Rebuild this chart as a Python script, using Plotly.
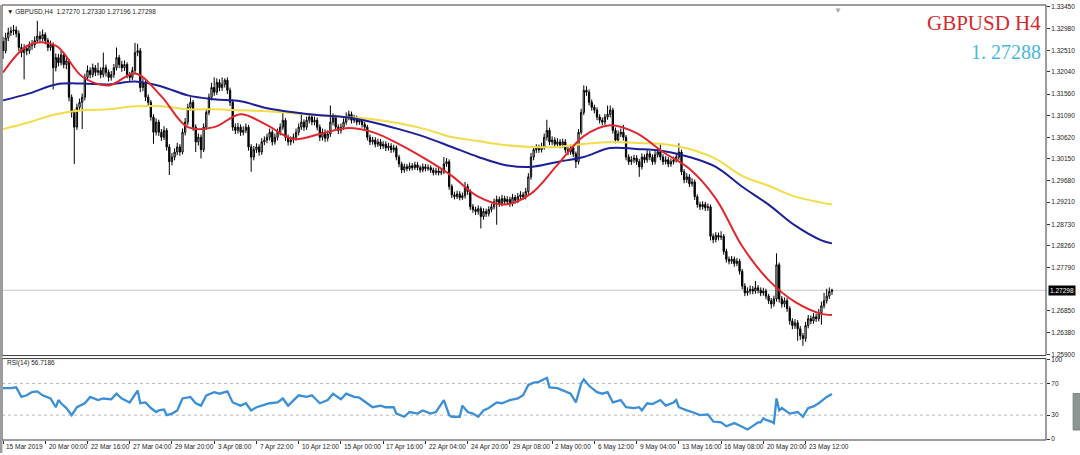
import plotly.graph_objects as go

# ---------------- data ----------------
bar_index = list(range(315))

opens = [
1.3270,1.3250,1.3278,1.3289,1.3293,1.3295,1.3287,1.3257,1.3246,1.3255,
1.3250,1.3261,1.3263,1.3272,1.3282,1.3276,1.3285,1.3272,1.3257,1.3263,
1.3213,1.3235,1.3224,1.3241,1.3220,1.3228,1.3149,1.3116,1.3084,1.3127,
1.3138,1.3149,1.3192,1.3207,1.3198,1.3213,1.3203,1.3207,1.3198,1.3213,
1.3203,1.3192,1.3198,1.3213,1.3235,1.3220,1.3213,1.3220,1.3198,1.3192,
1.3207,1.3246,1.3250,1.3170,1.3181,1.3149,1.3138,1.3106,1.3073,1.3095,
1.3073,1.3062,1.3077,1.3041,1.3009,1.3019,1.3030,1.3041,1.3030,1.3073,
1.3095,1.3127,1.3138,1.3084,1.3052,1.3062,1.3035,1.3084,1.3116,1.3149,
1.3170,1.3160,1.3181,1.3170,1.3177,1.3186,1.3164,1.3138,1.3084,1.3077,
1.3084,1.3073,1.3077,1.3084,1.3041,1.3019,1.3035,1.3041,1.3030,1.3052,
1.3056,1.3062,1.3073,1.3052,1.3062,1.3073,1.3084,1.3099,1.3062,1.3052,
1.3056,1.3062,1.3073,1.3084,1.3095,1.3084,1.3099,1.3106,1.3095,1.3099,
1.3084,1.3062,1.3073,1.3060,1.3069,1.3095,1.3106,1.3084,1.3077,1.3084,
1.3095,1.3106,1.3112,1.3099,1.3103,1.3095,1.3099,1.3090,1.3084,1.3062,
1.3052,1.3056,1.3047,1.3052,1.3043,1.3047,1.3039,1.3043,1.3035,1.3039,
1.3019,1.3004,1.2991,1.2998,1.2994,1.3000,1.2996,1.3002,1.2996,1.2991,
1.2998,1.2994,1.2996,1.2991,1.2985,1.2989,1.2985,1.2987,1.3004,1.3009,
1.2955,1.2937,1.2933,1.2939,1.2931,1.2935,1.2955,1.2944,1.2911,1.2905,
1.2901,1.2907,1.2890,1.2901,1.2896,1.2905,1.2911,1.2922,1.2927,1.2918,
1.2929,1.2922,1.2927,1.2918,1.2931,1.2925,1.2933,1.2937,1.2933,1.2944,
1.2976,1.3019,1.3035,1.3039,1.3035,1.3041,1.3062,1.3077,1.3052,1.3056,
1.3047,1.3052,1.3045,1.3052,1.3035,1.3030,1.3039,1.3026,1.3009,1.3073,
1.3116,1.3164,1.3160,1.3138,1.3127,1.3121,1.3106,1.3099,1.3095,1.3106,
1.3112,1.3121,1.3077,1.3056,1.3069,1.3073,1.3062,1.3019,1.3009,1.3013,
1.3017,1.3009,1.2998,1.3019,1.3013,1.3026,1.3019,1.3009,1.3024,1.3030,
1.3019,1.3009,1.3013,1.3004,1.3009,1.3013,1.3019,1.3030,1.2987,1.2970,
1.2976,1.2961,1.2965,1.2933,1.2916,1.2911,1.2916,1.2909,1.2911,1.2847,
1.2840,1.2849,1.2845,1.2847,1.2814,1.2797,1.2793,1.2797,1.2788,1.2793,
1.2771,1.2739,1.2724,1.2728,1.2732,1.2728,1.2735,1.2730,1.2724,1.2728,
1.2717,1.2707,1.2700,1.2711,1.2785,1.2711,1.2700,1.2707,1.2690,1.2663,
1.2653,1.2659,1.2646,1.2631,1.2625,1.2653,1.2668,1.2663,1.2672,1.2668,
1.2681,1.2696,1.2707,1.2717,1.27270]

highs = [
1.3280,1.3289,1.3300,1.3302,1.3306,1.3303,1.3294,1.3265,1.3264,1.3262,
1.3270,1.3273,1.3281,1.3315,1.3292,1.3296,1.3290,1.3278,1.3272,1.3268,
1.3244,1.3243,1.3250,1.3246,1.3237,1.3232,1.3155,1.3122,1.3135,1.3146,
1.3157,1.3200,1.3218,1.3214,1.3222,1.3219,1.3224,1.3214,1.3246,1.3220,
1.3209,1.3206,1.3221,1.3257,1.3241,1.3228,1.3229,1.3225,1.3204,1.3215,
1.3267,1.3265,1.3256,1.3190,1.3187,1.3155,1.3143,1.3112,1.3103,1.3100,
1.3080,1.3086,1.3082,1.3047,1.3028,1.3038,1.3050,1.3047,1.3081,1.3104,
1.3135,1.3149,1.3143,1.3090,1.3070,1.3068,1.3092,1.3124,1.3157,1.3180,
1.3192,1.3190,1.3188,1.3192,1.3190,1.3192,1.3170,1.3144,1.3092,1.3093,
1.3090,1.3086,1.3092,1.3089,1.3047,1.3043,1.3049,1.3047,1.3060,1.3064,
1.3070,1.3081,1.3079,1.3070,1.3081,1.3092,1.3116,1.3104,1.3068,1.3064,
1.3070,1.3081,1.3092,1.3116,1.3101,1.3107,1.3114,1.3112,1.3107,1.3105,
1.3090,1.3081,1.3079,1.3077,1.3131,1.3114,1.3111,1.3090,1.3092,1.3103,
1.3116,1.3120,1.3118,1.3111,1.3109,1.3106,1.3105,1.3096,1.3089,1.3068,
1.3063,1.3062,1.3059,1.3058,1.3054,1.3053,1.3050,1.3049,1.3046,1.3044,
1.3024,1.3009,1.3005,1.3004,1.3007,1.3006,1.3009,1.3008,1.3001,1.3005,
1.3004,1.3003,1.3001,1.2996,1.2996,1.2995,1.2994,1.3019,1.3017,1.3014,
1.2960,1.2944,1.2946,1.2945,1.2942,1.2965,1.2961,1.2949,1.2917,1.2911,
1.2914,1.2912,1.2908,1.2907,1.2912,1.2918,1.2929,1.2935,1.2933,1.2937,
1.2935,1.2934,1.2933,1.2939,1.2937,1.2941,1.2945,1.2943,1.2952,1.2984,
1.3028,1.3043,1.3047,1.3046,1.3050,1.3070,1.3100,1.3083,1.3064,1.3062,
1.3060,1.3058,1.3059,1.3058,1.3041,1.3046,1.3045,1.3031,1.3080,1.3124,
1.3175,1.3173,1.3166,1.3144,1.3133,1.3127,1.3112,1.3105,1.3113,1.3131,
1.3131,1.3126,1.3083,1.3077,1.3081,1.3089,1.3067,1.3025,1.3021,1.3024,
1.3023,1.3015,1.3027,1.3025,1.3034,1.3032,1.3025,1.3032,1.3038,1.3047,
1.3025,1.3021,1.3019,1.3016,1.3020,1.3027,1.3049,1.3035,1.2993,1.2984,
1.2982,1.2973,1.2970,1.2938,1.2922,1.2923,1.2922,1.2918,1.2916,1.2853,
1.2856,1.2855,1.2858,1.2852,1.2820,1.2803,1.2804,1.2803,1.2800,1.2798,
1.2776,1.2745,1.2736,1.2740,1.2739,1.2750,1.2741,1.2736,1.2735,1.2733,
1.2722,1.2713,1.2718,1.2810,1.2790,1.2717,1.2714,1.2713,1.2695,1.2669,
1.2667,1.2665,1.2652,1.2637,1.2661,1.2676,1.2675,1.2680,1.2679,1.2689,
1.2705,1.2724,1.2733,1.2736,1.27330]

lows = [
1.3232,1.3244,1.3271,1.3282,1.3284,1.3279,1.3249,1.3236,1.3188,1.3240,
1.3243,1.3252,1.3256,1.3266,1.3268,1.3270,1.3264,1.3249,1.3250,1.3166,
1.3205,1.3216,1.3218,1.3212,1.3210,1.3140,1.3105,1.3004,1.3078,1.3119,
1.3080,1.3142,1.3185,1.3190,1.3192,1.3195,1.3196,1.3190,1.3192,1.3194,
1.3183,1.3185,1.3191,1.3207,1.3212,1.3204,1.3206,1.3190,1.3183,1.3186,
1.3200,1.3238,1.3160,1.3162,1.3141,1.3130,1.3098,1.3048,1.3066,1.3065,
1.3054,1.3056,1.3033,1.2980,1.3001,1.3012,1.3023,1.3022,1.3025,1.3066,
1.3088,1.3120,1.3076,1.3030,1.3044,1.3016,1.3030,1.3078,1.3110,1.3142,
1.3152,1.3154,1.3162,1.3163,1.3170,1.3156,1.3130,1.3076,1.3069,1.3070,
1.3065,1.3066,1.3071,1.3033,1.2987,1.3012,1.3028,1.3022,1.3024,1.3045,
1.3049,1.3055,1.3044,1.3046,1.3055,1.3066,1.3078,1.3054,1.3044,1.3045,
1.3049,1.3055,1.3066,1.3078,1.3076,1.3078,1.3092,1.3088,1.3088,1.3077,
1.3054,1.3055,1.3052,1.3053,1.3063,1.3088,1.3076,1.3069,1.3070,1.3078,
1.3089,1.3099,1.3092,1.3093,1.3088,1.3089,1.3083,1.3077,1.3055,1.3045,
1.3046,1.3040,1.3041,1.3036,1.3037,1.3032,1.3033,1.3028,1.3029,1.3012,
1.2997,1.2984,1.2985,1.2988,1.2989,1.2990,1.2991,1.2990,1.2985,1.2986,
1.2988,1.2989,1.2985,1.2979,1.2980,1.2979,1.2980,1.2982,1.2998,1.2948,
1.2930,1.2927,1.2928,1.2925,1.2926,1.2929,1.2937,1.2904,1.2898,1.2893,
1.2894,1.2864,1.2883,1.2889,1.2890,1.2899,1.2905,1.2872,1.2911,1.2912,
1.2915,1.2916,1.2911,1.2912,1.2918,1.2919,1.2927,1.2926,1.2927,1.2938,
1.2970,1.3012,1.3028,1.3028,1.3029,1.3035,1.3055,1.3045,1.3045,1.3040,
1.3041,1.3038,1.3039,1.3028,1.3023,1.3024,1.3019,1.2995,1.3003,1.3068,
1.3110,1.3152,1.3131,1.3120,1.3114,1.3099,1.3092,1.3088,1.3089,1.3100,
1.3105,1.3070,1.3049,1.3050,1.3063,1.3055,1.3012,1.3002,1.3002,1.3006,
1.3002,1.2976,1.2992,1.3006,1.3007,1.3012,1.3002,1.3003,1.3018,1.3012,
1.3002,1.3003,1.2997,1.2998,1.3003,1.3007,1.3013,1.2980,1.2962,1.2963,
1.2954,1.2955,1.2926,1.2909,1.2904,1.2905,1.2902,1.2902,1.2838,1.2832,
1.2834,1.2838,1.2839,1.2807,1.2790,1.2786,1.2787,1.2781,1.2782,1.2764,
1.2732,1.2717,1.2718,1.2721,1.2721,1.2722,1.2723,1.2717,1.2718,1.2710,
1.2700,1.2690,1.2694,1.2705,1.2703,1.2692,1.2693,1.2683,1.2655,1.2645,
1.2646,1.2620,1.2622,1.2609,1.2618,1.2647,1.2656,1.2657,1.2661,1.2662,
1.2655,1.2690,1.2701,1.2711,1.27196]

closes = [
1.3250,1.3278,1.3289,1.3293,1.3295,1.3287,1.3257,1.3246,1.3255,1.3250,
1.3261,1.3263,1.3272,1.3282,1.3276,1.3285,1.3272,1.3257,1.3263,1.3213,
1.3235,1.3224,1.3241,1.3220,1.3228,1.3149,1.3116,1.3084,1.3127,1.3138,
1.3149,1.3192,1.3207,1.3198,1.3213,1.3203,1.3207,1.3198,1.3213,1.3203,
1.3192,1.3198,1.3213,1.3235,1.3220,1.3213,1.3220,1.3198,1.3192,1.3207,
1.3246,1.3250,1.3170,1.3181,1.3149,1.3138,1.3106,1.3073,1.3095,1.3073,
1.3062,1.3077,1.3041,1.3009,1.3019,1.3030,1.3041,1.3030,1.3073,1.3095,
1.3127,1.3138,1.3084,1.3052,1.3062,1.3035,1.3084,1.3116,1.3149,1.3170,
1.3160,1.3181,1.3170,1.3177,1.3186,1.3164,1.3138,1.3084,1.3077,1.3084,
1.3073,1.3077,1.3084,1.3041,1.3019,1.3035,1.3041,1.3030,1.3052,1.3056,
1.3062,1.3073,1.3052,1.3062,1.3073,1.3084,1.3099,1.3062,1.3052,1.3056,
1.3062,1.3073,1.3084,1.3095,1.3084,1.3099,1.3106,1.3095,1.3099,1.3084,
1.3062,1.3073,1.3060,1.3069,1.3095,1.3106,1.3084,1.3077,1.3084,1.3095,
1.3106,1.3112,1.3099,1.3103,1.3095,1.3099,1.3090,1.3084,1.3062,1.3052,
1.3056,1.3047,1.3052,1.3043,1.3047,1.3039,1.3043,1.3035,1.3039,1.3019,
1.3004,1.2991,1.2998,1.2994,1.3000,1.2996,1.3002,1.2996,1.2991,1.2998,
1.2994,1.2996,1.2991,1.2985,1.2989,1.2985,1.2987,1.3004,1.3009,1.2955,
1.2937,1.2933,1.2939,1.2931,1.2935,1.2955,1.2944,1.2911,1.2905,1.2901,
1.2907,1.2890,1.2901,1.2896,1.2905,1.2911,1.2922,1.2927,1.2918,1.2929,
1.2922,1.2927,1.2918,1.2931,1.2925,1.2933,1.2937,1.2933,1.2944,1.2976,
1.3019,1.3035,1.3039,1.3035,1.3041,1.3062,1.3077,1.3052,1.3056,1.3047,
1.3052,1.3045,1.3052,1.3035,1.3030,1.3039,1.3026,1.3009,1.3073,1.3116,
1.3164,1.3160,1.3138,1.3127,1.3121,1.3106,1.3099,1.3095,1.3106,1.3112,
1.3121,1.3077,1.3056,1.3069,1.3073,1.3062,1.3019,1.3009,1.3013,1.3017,
1.3009,1.2998,1.3019,1.3013,1.3026,1.3019,1.3009,1.3024,1.3030,1.3019,
1.3009,1.3013,1.3004,1.3009,1.3013,1.3019,1.3030,1.2987,1.2970,1.2976,
1.2961,1.2965,1.2933,1.2916,1.2911,1.2916,1.2909,1.2911,1.2847,1.2840,
1.2849,1.2845,1.2847,1.2814,1.2797,1.2793,1.2797,1.2788,1.2793,1.2771,
1.2739,1.2724,1.2728,1.2732,1.2728,1.2735,1.2730,1.2724,1.2728,1.2717,
1.2707,1.2700,1.2711,1.2785,1.2711,1.2700,1.2707,1.2690,1.2663,1.2653,
1.2659,1.2646,1.2631,1.2625,1.2653,1.2668,1.2663,1.2672,1.2668,1.2681,
1.2696,1.2707,1.2717,1.2727,1.27298]

# moving averages, read every 10 bars
ma_bars = [0,10,20,30,40,50,60,70,80,90,100,110,120,130,140,150,160,170,180,190,
           200,210,220,230,240,250,260,270,280,290,300,310,314]
ma_red = [1.32026,1.32630,1.32609,1.31940,1.31746,1.32005,1.31509,1.30840,1.30840,1.31120,
          1.30883,1.30581,1.30689,1.30818,1.30732,1.30473,1.30150,1.29783,1.29330,1.29158,
          1.29395,1.30020,1.30646,1.30883,1.30711,1.30301,1.29934,1.29287,1.28252,1.27518,
          1.27044,1.26785,1.26763]
ma_blue = [1.31422,1.31573,1.31768,1.31789,1.31768,1.31832,1.31724,1.31530,1.31444,1.31401,
           1.31250,1.31164,1.31099,1.31056,1.30948,1.30797,1.30624,1.30409,1.30193,1.30020,
           1.29977,1.30085,1.30193,1.30387,1.30365,1.30322,1.30193,1.29977,1.29546,1.29158,
           1.28705,1.28381,1.28316]
ma_yellow = [1.30797,1.30948,1.31120,1.31207,1.31228,1.31293,1.31293,1.31228,1.31228,1.31207,
             1.31185,1.31142,1.31099,1.31056,1.31013,1.30926,1.30797,1.30624,1.30538,1.30452,
             1.30409,1.30409,1.30473,1.30516,1.30495,1.30473,1.30365,1.30150,1.29783,1.29567,
             1.29330,1.29201,1.29158]

rsi_bars = [0,3,5,7,9,11,13,15,18,20,21,22,24,26,28,31,33,36,38,41,43,45,48,51,52,54,56,58,59,61,
            62,64,66,68,71,73,75,77,80,82,85,87,90,92,94,96,98,101,104,106,108,110,112,115,117,
            120,123,125,128,130,133,135,138,140,143,145,148,149,152,154,157,159,162,164,167,169,
            170,173,174,176,178,180,182,184,187,189,192,195,197,199,201,203,206,207,210,212,215,
            217,219,220,222,225,227,229,231,234,236,239,241,242,244,246,249,251,254,255,256,259,
            261,264,267,269,272,274,277,279,282,283,286,287,288,289,291,292,293,294,295,298,301,
            303,305,307,309,312,314]
rsi_vals = [64,64,65,53,55,59,60,55,51,40,49,45,39,30,40,45,53,49,51,50,57,51,46,61,45,46,39,34,36,37,
            30,32,36,51,53,45,42,55,59,57,60,46,42,45,36,40,42,45,46,51,42,49,55,53,55,
            45,49,57,50,57,53,52,45,40,42,40,40,32,28,34,32,36,32,34,49,30,
            28,28,42,34,32,28,36,39,46,45,49,51,55,68,71,72,77,65,64,61,57,
            46,70,75,67,59,57,59,46,49,40,39,40,36,45,44,49,42,46,49,40,36,
            34,30,31,22,21,16,20,17,12,14,21,21,26,24,22,20,51,36,39,32,34,
            28,39,41,45,53,56.72]

price_ticks = [1.33450,1.32980,1.32510,1.32040,1.31560,1.31090,1.30620,1.30150,1.29680,
               1.29210,1.28730,1.28260,1.27790,1.26850,1.26380,1.25900]
rsi_ticks = [0,30,70,100]
date_bars = [0,16,32,48,64,80,96,112,128,144,160,176,192,208,224,240,256,272,288,304]
date_labels = ["15 Mar 2019","20 Mar 00:00","22 Mar 16:00","27 Mar 04:00","29 Mar 20:00",
               "3 Apr 08:00","7 Apr 22:00","10 Apr 12:00","15 Apr 00:00","17 Apr 16:00",
               "22 Apr 04:00","24 Apr 20:00","29 Apr 08:00","2 May 00:00","6 May 12:00",
               "9 May 04:00","13 May 16:00","16 May 08:00","20 May 20:00","23 May 12:00"]
last_price = 1.27298
header = "▼ GBPUSD,H4  1.27270 1.27330 1.27196 1.27298"

# ---------------- figure ----------------
SMALL = dict(family="Liberation Sans, Arial, sans-serif", size=6.5, color="#222222")
MAIN_DOM = [0.1941, 1.0]
RSI_DOM = [0.0, 0.1872]
XR = [-0.379, 395.07]

fig = go.Figure()
fig.add_trace(go.Candlestick(
    x=bar_index, open=opens, high=highs, low=lows, close=closes,
    increasing=dict(line=dict(color="black", width=1), fillcolor="white"),
    decreasing=dict(line=dict(color="black", width=1), fillcolor="black"),
    whiskerwidth=0, xaxis="x", yaxis="y", showlegend=False, hoverinfo="skip"))
fig.add_trace(go.Scatter(x=ma_bars, y=ma_yellow, mode="lines", xaxis="x", yaxis="y",
                         line=dict(color="#f3dc48", width=2, shape="spline"), showlegend=False))
fig.add_trace(go.Scatter(x=ma_bars, y=ma_blue, mode="lines", xaxis="x", yaxis="y",
                         line=dict(color="#1c1f96", width=2, shape="spline"), showlegend=False))
fig.add_trace(go.Scatter(x=ma_bars, y=ma_red, mode="lines", xaxis="x", yaxis="y",
                         line=dict(color="#e0282c", width=2, shape="spline"), showlegend=False))
fig.add_trace(go.Scatter(x=rsi_bars, y=rsi_vals, mode="lines", xaxis="x2", yaxis="y2",
                         line=dict(color="#3a8fd6", width=2.3), showlegend=False))

shapes = [
    dict(type="rect", xref="paper", yref="paper", x0=0, x1=1, y0=MAIN_DOM[0], y1=MAIN_DOM[1],
         line=dict(color="#3a3a3a", width=1), layer="above"),
    dict(type="rect", xref="paper", yref="paper", x0=0, x1=1, y0=RSI_DOM[0], y1=RSI_DOM[1],
         line=dict(color="#3a3a3a", width=1), layer="above"),
    dict(type="rect", xref="paper", yref="paper", x0=-0.0019, x1=0.0004, y0=-0.03, y1=1.0,
         fillcolor="#9c9c9c", line=dict(width=0)),
    dict(type="line", xref="paper", yref="y", x0=0, x1=1, y0=last_price, y1=last_price,
         line=dict(color="#c8c8c8", width=1), layer="below"),
    dict(type="line", xref="paper", yref="y2", x0=0, x1=1, y0=70, y1=70,
         line=dict(color="#b8b8b8", width=1, dash="dot"), layer="below"),
    dict(type="line", xref="paper", yref="y2", x0=0, x1=1, y0=30, y1=30,
         line=dict(color="#b8b8b8", width=1, dash="dot"), layer="below"),
    dict(type="rect", xref="paper", yref="paper", x0=1.026, x1=1.0335, y0=0.023, y1=0.107,
         fillcolor="#8c9592", line=dict(color="#7a8280", width=1)),
]

annotations = [
    dict(xref="paper", yref="paper", x=0.003, y=0.986, text=header, showarrow=False,
         xanchor="left", yanchor="middle", font=SMALL),
    dict(xref="paper", yref="paper", x=0.9972, y=0.958, text="GBPUSD H4", showarrow=False,
         xanchor="right", yanchor="middle",
         font=dict(family="Liberation Serif, Times New Roman, serif", size=21, color="#d32a2e")),
    dict(xref="paper", yref="paper", x=0.9972, y=0.893, text="1. 27288", showarrow=False,
         xanchor="right", yanchor="middle",
         font=dict(family="Liberation Serif, Times New Roman, serif", size=20, color="#47b6dc")),
    dict(xref="paper", yref="paper", x=0.003, y=0.176, text="RSI(14) 56.7186", showarrow=False,
         xanchor="left", yanchor="middle", font=SMALL),
    dict(xref="paper", yref="y", x=1.0, y=last_price, text="1.27298", showarrow=False,
         xanchor="left", yanchor="middle", xshift=2, bgcolor="#000000", borderpad=1,
         font=dict(family="Liberation Sans, Arial, sans-serif", size=6.5, color="white")),
    dict(xref="paper", yref="paper", x=0.8008, y=1.006, text="▼", showarrow=False,
         xanchor="center", yanchor="top", font=dict(size=8, color="#a8a8a8")),
]
for b, lab in zip(date_bars, date_labels):
    annotations.append(dict(xref="x2", yref="paper", x=b + 0.5, y=0, yshift=-1, text=lab,
                            showarrow=False, xanchor="left", yanchor="top", font=SMALL))

fig.update_layout(
    width=1080, height=455,
    margin=dict(l=2, r=34, t=2, b=15),
    paper_bgcolor="white", plot_bgcolor="white",
    showlegend=False,
    xaxis=dict(domain=[0, 1], range=XR, anchor="y", showticklabels=False, showgrid=False,
               zeroline=False, rangeslider=dict(visible=False), fixedrange=True),
    xaxis2=dict(domain=[0, 1], range=XR, anchor="y2", showgrid=False, zeroline=False,
                tickmode="array", tickvals=date_bars, showticklabels=False,
                ticks="outside", ticklen=3, tickcolor="#333333"),
    yaxis=dict(domain=MAIN_DOM, range=[1.25879, 1.33493], side="right", anchor="x",
               showgrid=False, zeroline=False, tickmode="array", tickvals=price_ticks,
               ticktext=[f"{v:.5f}" for v in price_ticks], ticks="outside", ticklen=3,
               tickcolor="#333333", tickfont=SMALL, ticklabeloverflow="allow"),
    yaxis2=dict(domain=RSI_DOM, range=[-1.25, 101.25], side="right", anchor="x2",
                showgrid=False, zeroline=False, tickmode="array", tickvals=rsi_ticks,
                ticks="outside", ticklen=3, tickcolor="#333333", tickfont=SMALL,
                ticklabeloverflow="allow"),
    shapes=shapes, annotations=annotations,
)

fig.write_html("out.html", config={"displayModeBar": False},
               post_script="document.body.style.margin='0px';")
